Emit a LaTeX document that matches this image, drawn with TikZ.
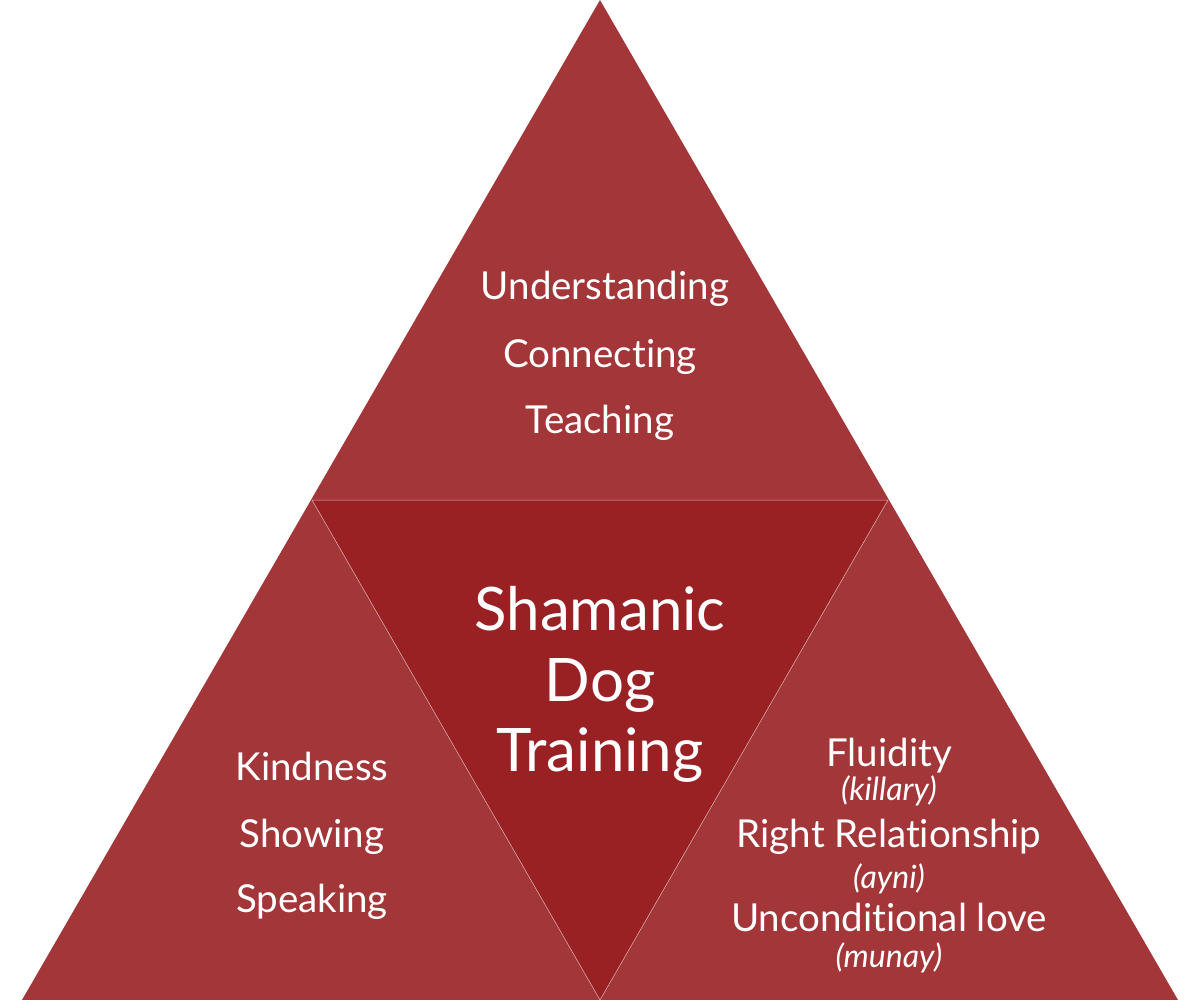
\documentclass[tikz,border=0pt]{standalone}
\usepackage{fontspec}
\setmainfont{Lato}[Ligatures={NoCommon,NoRare}]
\definecolor{outer}{HTML}{A33638}
\definecolor{inner}{HTML}{9A2123}
\begin{document}
\begin{tikzpicture}[x=1pt,y=-1pt,
  lbl/.style={text=white,anchor=base,font=\fontsize{38.5}{44}\selectfont,inner sep=0pt},
  big/.style={text=white,anchor=base,font=\fontsize{60}{68}\selectfont,inner sep=0pt},
  sub/.style={text=white,anchor=base,font=\fontsize{32}{38}\selectfont\itshape,inner sep=0pt},
  tri/.style={draw=white!65!outer,line width=0.5pt}]
\useasboundingbox (0,0) rectangle (1200,1000);
\coordinate (A) at (600,0);
\coordinate (L) at (22,1000);
\coordinate (R) at (1178,1000);
\coordinate (ML) at (312,500);
\coordinate (MR) at (888,500);
\coordinate (MB) at (600,1000);
\fill[outer] (A) -- (L) -- (R) -- cycle;
\fill[inner] (ML) -- (MR) -- (MB) -- cycle;
\draw[tri] (ML) -- (MR) -- (MB) -- cycle;
% top
\node[lbl] (t1) at (605,300) {Understanding};
\node[lbl] (t2) at (600,367) {Connecting};
\node[lbl] (t3) at (600,433) {Teaching};
% center
\node[big] (c1) at (600,630) {Shamanic};
\node[big] (c2) at (600,701) {Dog};
\node[big] (c3) at (600,771) {Training};
% left
\node[lbl] (l1) at (312,780) {Kindness};
\node[lbl] (l2) at (312,847) {Showing};
\node[lbl] (l3) at (312,912) {Speaking};
% right
\node[lbl] (r1) at (889,766) {Fluidity};
\node[sub] (r1s) at (889,800) {(killary)};
\node[lbl] (r2) at (889,847) {Right Relationship};
\node[sub] (r2s) at (889,888) {(ayni)};
\node[lbl] (r3) at (889,931) {Unconditional love};
\node[sub] (r3s) at (889,967) {(munay)};
\end{tikzpicture}
\end{document}
